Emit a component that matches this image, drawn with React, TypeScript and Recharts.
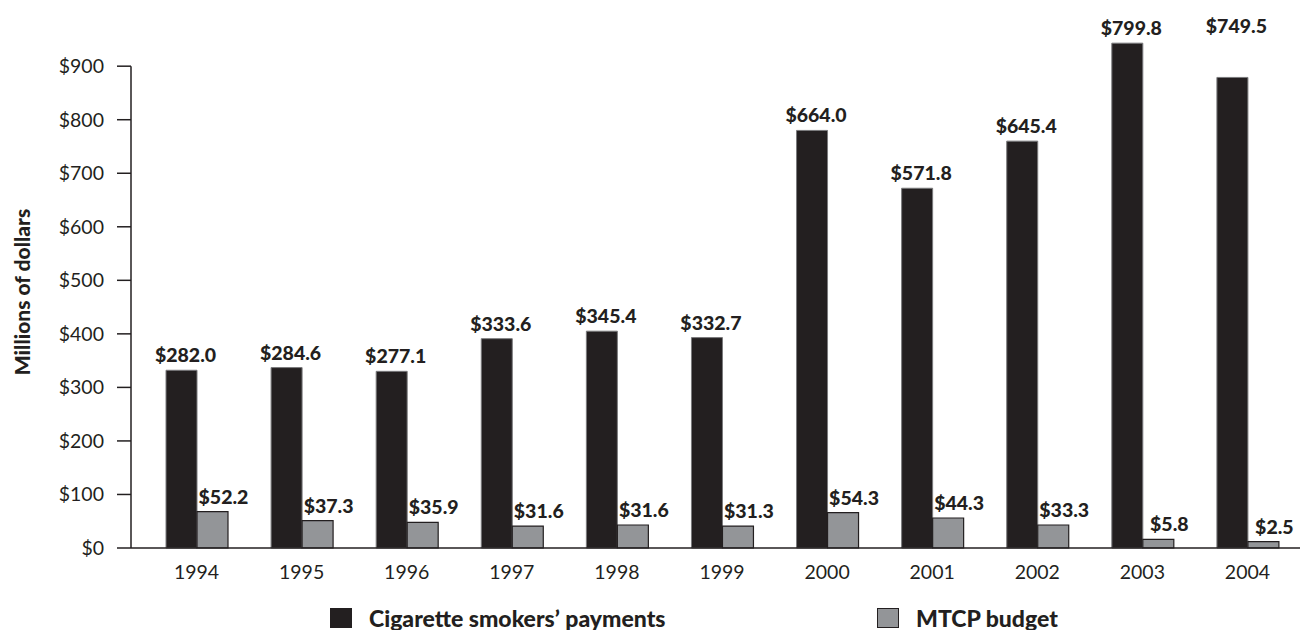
import React from 'react';
import { BarChart, Bar, XAxis, YAxis, LabelList } from 'recharts';

const years = ['1994', '1995', '1996', '1997', '1998', '1999', '2000', '2001', '2002', '2003', '2004'];
// bar heights as drawn (millions of dollars)
const smokerBars = [332, 337, 330, 391, 405, 393, 780, 672, 760, 943, 879];
const budgetBars = [68, 51, 48, 41, 43, 41, 66, 56, 43, 16, 12];
// printed value labels
const smokerLabels = ['$282.0', '$284.6', '$277.1', '$333.6', '$345.4', '$332.7', '$664.0', '$571.8', '$645.4', '$799.8', '$749.5'];
const budgetLabels = ['$52.2', '$37.3', '$35.9', '$31.6', '$31.6', '$31.3', '$54.3', '$44.3', '$33.3', '$5.8', '$2.5'];
const yTicks = [0, 100, 200, 300, 400, 500, 600, 700, 800, 900];
const seriesNames = ['Cigarette smokers\u2019 payments', 'MTCP budget'];

const data = years.map((year, i) => ({
  year,
  smokers: smokerBars[i],
  budget: budgetBars[i],
  smokerLabel: smokerLabels[i],
  budgetLabel: budgetLabels[i],
}));

const INK = '#231f20';
const GREY = '#939598';
const FONT = 'Lato, "Open Sans", sans-serif';
const W = 1300;
const H = 630;
const MARGIN = { top: 18, right: 0, bottom: 40, left: 0 };
const X_AXIS_H = 42;
const PLOT_BOTTOM = H - MARGIN.bottom - X_AXIS_H;
const Y_AXIS_W = 131;
const LIFTED = ['2004'];

const YTick = (props: any) => {
  const { y, payload } = props;
  return (
    <g>
      <text x={104} y={y} dy="0.35em" textAnchor="end" fontFamily={FONT} fontSize={19.5} fill={INK}>
        {'$' + payload.value}
      </text>
      <line x1={117} x2={Y_AXIS_W} y1={y} y2={y} stroke={INK} strokeWidth={1.5} />
      {payload.value === yTicks[yTicks.length - 1] && (
        <line x1={Y_AXIS_W} x2={Y_AXIS_W} y1={y} y2={PLOT_BOTTOM} stroke={INK} strokeWidth={1.5} />
      )}
    </g>
  );
};

const XTick = (props: any) => {
  const { x, payload } = props;
  return (
    <text x={x} y={PLOT_BOTTOM + 24} dy="0.35em" textAnchor="middle" fontFamily={FONT} fontSize={19.5} fill={INK}>
      {payload.value}
    </text>
  );
};

const makeLabel = (shift: number, series: 'smokers' | 'budget') => (props: any) => {
  const vb = props.viewBox || {};
  const x = props.x ?? vb.x;
  const y = props.y ?? vb.y;
  const width = props.width ?? vb.width;
  const idx = props.index;
  const lifted = series === 'smokers' && idx != null && LIFTED.includes(years[idx]);
  const baseY = y - 8 - (lifted ? 36 : 0);
  return (
    <text
      x={x + width / 2 + shift}
      y={baseY}
      textAnchor="middle"
      fontFamily={FONT}
      fontWeight={900}
      fontSize={19.5}
      fill={INK}
    >
      {props.value}
    </text>
  );
};

const YTitle = () => (
  <text
    x={0}
    y={0}
    transform={`translate(30, 292) rotate(-90)`}
    textAnchor="middle"
    fontFamily={FONT}
    fontWeight={900}
    fontSize={21}
    fill={INK}
  >
    Millions of dollars
  </text>
);

const legendItems = [
  { name: seriesNames[0], fill: INK, stroke: INK, left: 330 },
  { name: seriesNames[1], fill: GREY, stroke: INK, left: 877 },
];

export default function App() {
  return (
    <div style={{ position: 'absolute', left: 0, top: 0, width: W, height: H, background: '#fff' }}>
      <BarChart width={W} height={H} data={data} margin={MARGIN} barGap={0} barCategoryGap={0}>
        <XAxis
          dataKey="year"
          height={X_AXIS_H}
          padding={{ left: 13, right: 0 }}
          axisLine={{ stroke: INK, strokeWidth: 1.5 }}
          tickLine={false}
          tick={<XTick />}
          interval={0}
        />
        <YAxis
          width={Y_AXIS_W}
          domain={[0, 990]}
          ticks={yTicks}
          interval={0}
          axisLine={false}
          tickLine={false}
          tick={<YTick />}
          label={<YTitle />}
        />
        <Bar dataKey="smokers" fill={INK} stroke="#7a7a7c" strokeWidth={1} barSize={31} isAnimationActive={false}>
          <LabelList dataKey="smokerLabel" content={makeLabel(4, 'smokers')} />
        </Bar>
        <Bar dataKey="budget" fill={GREY} stroke={INK} strokeWidth={1.2} barSize={31} isAnimationActive={false}>
          <LabelList dataKey="budgetLabel" content={makeLabel(11, 'budget')} />
        </Bar>
      </BarChart>
      {legendItems.map((it) => (
        <div key={it.name} style={{ position: 'absolute', left: it.left, top: 607, height: 22, display: 'flex', alignItems: 'center' }}>
          <div style={{ width: 22, height: 20, background: it.fill, border: `1px solid ${it.stroke}`, boxSizing: 'border-box' }} />
          <span style={{ marginLeft: 17, fontFamily: FONT, fontWeight: 900, fontSize: 23, color: INK, lineHeight: '22px' }}>
            {it.name}
          </span>
        </div>
      ))}
    </div>
  );
}
